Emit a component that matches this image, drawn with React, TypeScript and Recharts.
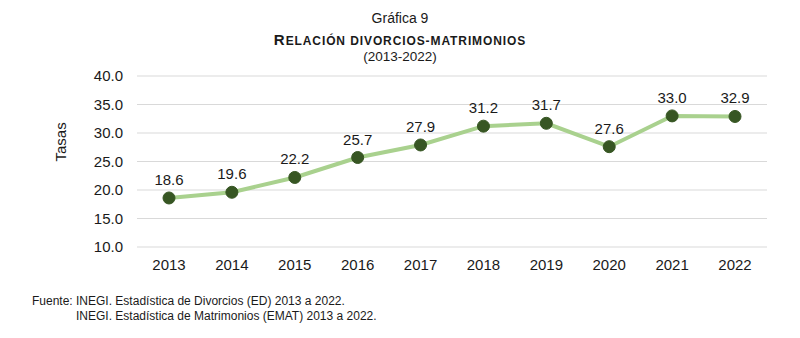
import { LineChart, Line, XAxis, YAxis, CartesianGrid, LabelList } from 'recharts';

const years = ['2013', '2014', '2015', '2016', '2017', '2018', '2019', '2020', '2021', '2022'];
const tasas = [18.6, 19.6, 22.2, 25.7, 27.9, 31.2, 31.7, 27.6, 33.0, 32.9];
const yTicks = [10, 15, 20, 25, 30, 35, 40];

const data = years.map((year, i) => ({ year, tasa: tasas[i] }));

const font = '"Liberation Sans", Arial, sans-serif';

const line = (top: number, h: number) => ({
  position: 'absolute' as const,
  top: top - h / 2,
  left: 0,
  width: 800,
  height: h,
  lineHeight: h + 'px',
  textAlign: 'center' as const,
});

export default function App() {
  return (
    <div style={{ position: 'fixed', top: 0, left: 0, width: 800, height: 338, background: '#fff', fontFamily: font, color: '#1a1a1a' }}>
      <div style={{ ...line(18, 18), fontSize: 14 }}>Gráfica 9</div>
      <div style={{ ...line(40, 20), fontWeight: 'bold' }}>
        <span style={{ fontSize: 15, letterSpacing: 1 }}>R</span>
        <span style={{ fontSize: 12, letterSpacing: 0.9 }}>ELACIÓN DIVORCIOS-MATRIMONIOS</span>
      </div>
      <div style={{ ...line(57, 16), fontSize: 13.5 }}>(2013-2022)</div>
      <LineChart width={800} height={338} data={data} margin={{ top: 76, right: 33, bottom: 61, left: 50 }}>
        <CartesianGrid vertical={false} stroke="#d9d9d9" />
        <XAxis
          dataKey="year"
          axisLine={false}
          tickLine={false}
          height={30}
          padding={{ left: 32, right: 32 }}
          tick={{ fill: '#1a1a1a', fontSize: 15, fontFamily: font }}
          dy={4}
        />
        <YAxis
          domain={[10, 40]}
          ticks={yTicks}
          axisLine={false}
          tickLine={false}
          width={87}
          tickMargin={8}
          tickFormatter={(v: number) => v.toFixed(1)}
          tick={{ fill: '#1a1a1a', fontSize: 15, fontFamily: font }}
          label={{ value: 'Tasas', angle: -90, position: 'insideLeft', offset: 11, fill: '#1a1a1a', fontSize: 15, fontFamily: font }}
        />
        <Line
          type="linear"
          dataKey="tasa"
          stroke="#a9d18e"
          strokeWidth={4}
          dot={{ r: 6, fill: '#375623', stroke: '#375623', strokeWidth: 1 }}
          isAnimationActive={false}
        >
          <LabelList
            dataKey="tasa"
            position="top"
            offset={13}
            formatter={(v: number) => v.toFixed(1)}
            style={{ fill: '#1a1a1a', fontSize: 15, fontFamily: font }}
          />
        </Line>
      </LineChart>
      <div style={{ position: 'absolute', top: 294, left: 32, fontSize: 12, lineHeight: '15px' }}>
        <div>Fuente: INEGI. Estadística de Divorcios (ED) 2013 a 2022.</div>
        <div style={{ paddingLeft: 44 }}>INEGI. Estadística de Matrimonios (EMAT) 2013 a 2022.</div>
      </div>
    </div>
  );
}
